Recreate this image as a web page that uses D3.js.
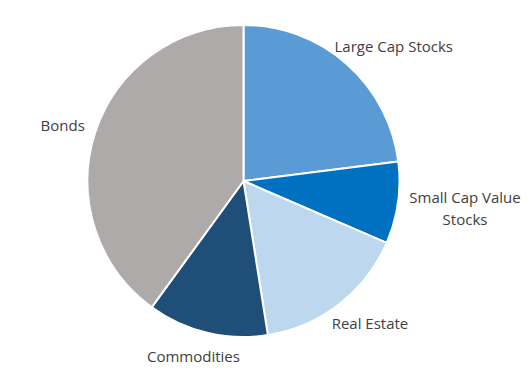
<!DOCTYPE html>
<html>
<head>
<meta charset="utf-8">
<script src="https://cdn.jsdelivr.net/npm/d3@7"></script>
<style>
  body { margin: 0; background: #fff; }
  text { font-family: "Open Sans", sans-serif; font-size: 15px; fill: #404040; }
</style>
</head>
<body>
<div class="pie-chart-container"></div>
<script>
// Data
const categories = ['Large Cap Stocks', 'Small Cap Value Stocks', 'Real Estate', 'Commodities', 'Bonds'];
const labelLines = [['Large Cap Stocks'], ['Small Cap Value', 'Stocks'], ['Real Estate'], ['Commodities'], ['Bonds']];
const values = [23, 8.5, 16, 12.5, 40];
const colors = ['#5b9bd5', '#0070c0', '#bdd7ee', '#1f4e79', '#aeaaaa'];

const width = 531;
const height = 376;
const radius = 156;
const cx = 243.5;
const cy = 181;

const svg = d3.select('.pie-chart-container')
    .append('svg')
    .attr('width', width)
    .attr('height', height)
    .append('g')
    .attr('transform', `translate(${cx}, ${cy})`);

const pie = d3.pie().sort(null).value(d => d.value);
const arcs = pie(categories.map((c, i) => ({ name: c, value: values[i], lines: labelLines[i], color: colors[i] })));

const arc = d3.arc().innerRadius(0).outerRadius(radius);

// Slices
svg.selectAll('.slice')
    .data(arcs)
    .join('path')
    .attr('class', 'slice')
    .attr('d', arc)
    .attr('fill', d => d.data.color)
    .attr('stroke', '#fff')
    .attr('stroke-width', 2)
    .attr('stroke-linejoin', 'round');

// Labels, pushed outside the pie along the mid angle
const lineHeight = 22;
const labelR = 168;

const label = svg.selectAll('.label')
    .data(arcs)
    .join('text')
    .attr('class', 'label')
    .attr('text-anchor', 'middle');

label.selectAll('tspan')
    .data(d => d.data.lines)
    .join('tspan')
    .attr('x', 0)
    .attr('dy', (d, i) => i === 0 ? 0 : lineHeight)
    .text(d => d);

label.each(function (d) {
    const box = this.getBBox();
    const a = (d.startAngle + d.endAngle) / 2;
    const ux = Math.sin(a);
    const uy = -Math.cos(a);
    const h = box.height;
    const x = ux * (labelR + box.width / 2);
    const y = uy * (labelR + h / 2 * 1.2);
    // shift so the box centre sits at (x, y)
    const dy = y - (box.y + h / 2);
    d3.select(this).attr('transform', `translate(${x}, ${dy})`);
});
</script>
</body>
</html>
